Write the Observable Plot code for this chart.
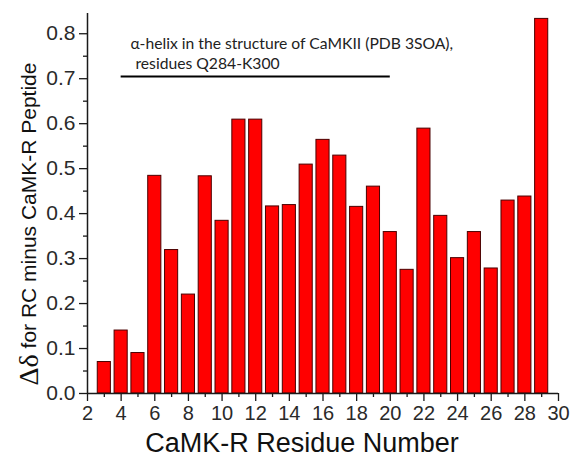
<!DOCTYPE html>
<html>
<head>
<meta charset="utf-8">
<script src="https://cdn.jsdelivr.net/npm/d3@7"></script>
<script src="https://cdn.jsdelivr.net/npm/@observablehq/plot@0.6"></script>
<style>
  html, body { margin: 0; padding: 0; background: white; }
  svg { display: block; }
</style>
</head>
<body>
<script>
const residues = [3, 4, 5, 6, 7, 8, 9, 10, 11, 12, 13, 14, 15, 16, 17, 18, 19, 20, 21, 22, 23, 24, 25, 26, 27, 28, 29];
const deltas   = [0.070, 0.140, 0.090, 0.484, 0.319, 0.220, 0.483, 0.384, 0.609, 0.609, 0.416, 0.419, 0.509, 0.564, 0.529, 0.415, 0.460, 0.359, 0.275, 0.589, 0.395, 0.301, 0.359, 0.278, 0.429, 0.438, 0.833];
const majorX = [2, 4, 6, 8, 10, 12, 14, 16, 18, 20, 22, 24, 26, 28, 30];
const minorX = [3, 5, 7, 9, 11, 13, 15, 17, 19, 21, 23, 25, 27, 29];
const majorY = [0, 0.1, 0.2, 0.3, 0.4, 0.5, 0.6, 0.7, 0.8];
const minorY = [0.05, 0.15, 0.25, 0.35, 0.45, 0.55, 0.65, 0.75];
const helix = [{start: 4, end: 20, level: 0.705}];
const noteLines = ["α-helix in the structure of CaMKII (PDB 3SOA),", "residues Q284-K300"];
const xTitle = "CaMK-R Residue Number";
const yTitleSymbol = "Δδ";
const yTitleRest = " for RC minus CaMK-R Peptide";

const data = residues.map((r, i) => ({residue: r, delta: deltas[i]}));
const notes = [
  {text: noteLines[0], x: 4.55, y: 0.778},
  {text: noteLines[1], x: 4.85, y: 0.733}
];
const fmtY = d3.format(".1f");

const svg = Plot.plot({
  width: 573,
  height: 457,
  marginLeft: 87,
  marginRight: 15,
  marginTop: 13,
  marginBottom: 64,
  x: {domain: [2, 30]},
  y: {domain: [0, 0.845]},
  style: {fontFamily: "'Liberation Sans', Arial, sans-serif", background: "white", color: "#1a1a1a"},
  marks: [
    Plot.rectY(data, {x1: d => d.residue - 0.39, x2: d => d.residue + 0.39, y: "delta", fill: "#ff0000", stroke: "#4a0000", strokeWidth: 1}),
    Plot.axisX({ticks: majorX, tickSize: 8, tickFormat: () => "", label: null, strokeWidth: 1.3}),
    Plot.axisX({ticks: minorX, tickSize: 4, tickFormat: () => "", label: null, strokeWidth: 1.3}),
    Plot.axisY({ticks: majorY, tickSize: 8, tickFormat: () => "", label: null, strokeWidth: 1.3}),
    Plot.axisY({ticks: minorY, tickSize: 4, tickFormat: () => "", label: null, strokeWidth: 1.3}),
    Plot.text(majorX, {x: d => d, frameAnchor: "bottom", dy: 20, lineAnchor: "middle", text: d => String(d), fontSize: 20, fill: "#2a2a2a"}),
    Plot.text(majorY, {y: d => d, frameAnchor: "left", dx: -12, textAnchor: "end", lineAnchor: "middle", text: d => fmtY(d), fontSize: 21, fill: "#2a2a2a"}),
    Plot.ruleX([2], {stroke: "#1a1a1a", strokeWidth: 1.5}),
    Plot.ruleY([0], {stroke: "#1a1a1a", strokeWidth: 1.5}),
    Plot.ruleY(helix, {x1: "start", x2: "end", y: "level", stroke: "black", strokeWidth: 2}),
    Plot.text(notes, {x: "x", y: "y", text: "text", textAnchor: "start", lineAnchor: "middle", fontSize: 15.7, fontFamily: "Lato, 'Open Sans', sans-serif", fill: "#222"}),
    Plot.text([xTitle], {text: d => d, frameAnchor: "bottom", dx: -21, dy: 50, lineAnchor: "middle", fontSize: 27, fill: "#111"})
  ]
});

const yt = d3.select(svg).append("text")
  .attr("transform", "translate(28, 224) rotate(-90)")
  .attr("text-anchor", "middle")
  .attr("dominant-baseline", "central")
  .attr("fill", "#111")
  .attr("font-family", "'Liberation Sans', Arial, sans-serif");
yt.append("tspan").attr("font-family", "'Liberation Serif', serif").attr("font-size", 28).text(yTitleSymbol);
yt.append("tspan").attr("font-size", 21).text(yTitleRest);

document.body.appendChild(svg);
</script>
</body>
</html>
